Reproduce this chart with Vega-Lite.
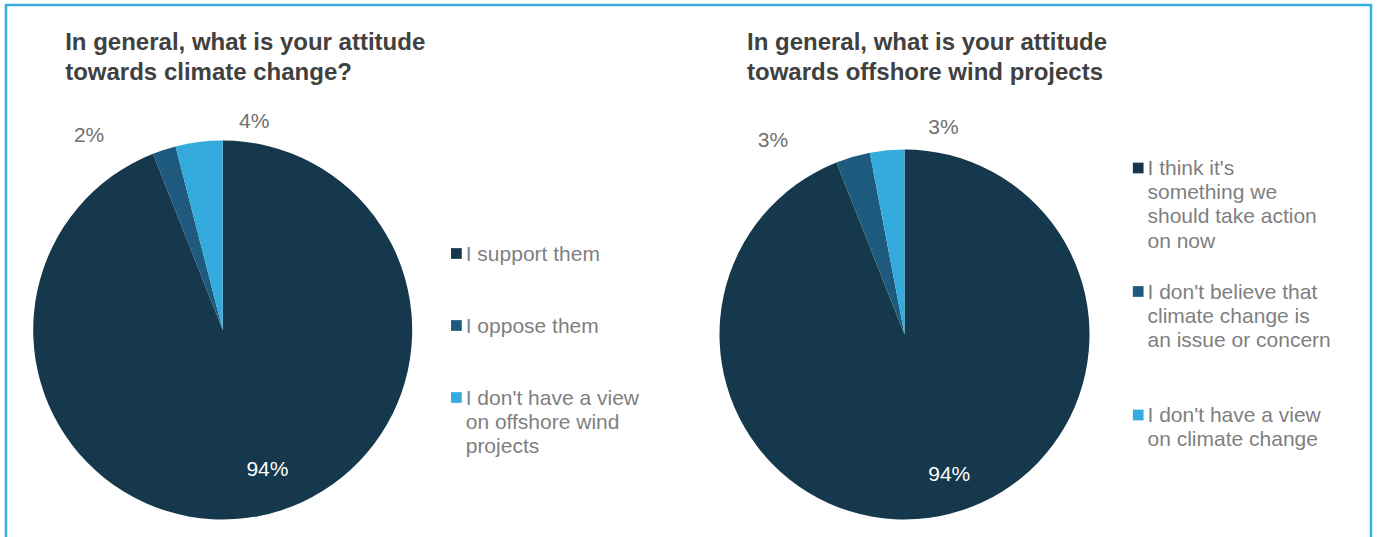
{
  "$schema": "https://vega.github.io/schema/vega-lite/v6.json",
  "width": 1365,
  "height": 540,
  "autosize": {"type": "none"},
  "padding": {"left": 6, "top": 5, "right": 7, "bottom": -8},
  "background": "white",
  "config": {
    "view": {"stroke": "#3aaee0", "strokeWidth": 2.5},
    "font": "Liberation Sans"
  },
  "datasets": {
    "pie": [
      {"q": "A", "ord": 1, "cat": "I support them", "value": 0.94},
      {"q": "A", "ord": 2, "cat": "I oppose them", "value": 0.02},
      {"q": "A", "ord": 3, "cat": "I don't have a view\non offshore wind\nprojects", "value": 0.04},
      {"q": "B", "ord": 1, "cat": "I think it's\nsomething we\nshould take action\non now", "value": 0.94},
      {"q": "B", "ord": 2, "cat": "I don't believe that\nclimate change is\nan issue or concern", "value": 0.03},
      {"q": "B", "ord": 3, "cat": "I don't have a view\non climate change", "value": 0.03}
    ],
    "titles": [
      {"q": "A", "title": "In general, what is your attitude\ntowards climate change?"},
      {"q": "B", "title": "In general, what is your attitude\ntowards offshore wind projects"}
    ]
  },
  "layer": [
    {
      "data": {"name": "pie"},
      "transform": [{"filter": "datum.q === 'A'"}],
      "mark": {"type": "arc", "outerRadius": 189.5},
      "encoding": {
        "x": {"field": "q", "type": "nominal", "scale": {"type": "point", "domain": ["A", "B"], "range": [216.7, 898.5], "padding": 0}, "axis": null},
        "y": {"field": "q", "type": "nominal", "scale": {"type": "point", "domain": ["A", "B"], "range": [325, 329.5], "padding": 0}, "axis": null},
        "theta": {"field": "value", "type": "quantitative", "stack": true},
        "order": {"field": "ord", "type": "quantitative"},
        "color": {"field": "ord", "type": "nominal", "scale": {"domain": [1, 2, 3], "range": ["#16384d", "#1d5a7e", "#35abdd"]}, "legend": null}
      }
    },
    {
      "data": {"name": "pie"},
      "transform": [{"filter": "datum.q === 'B'"}],
      "mark": {"type": "arc", "outerRadius": 185},
      "encoding": {
        "x": {"field": "q", "type": "nominal", "scale": {"type": "point", "domain": ["A", "B"], "range": [216.7, 898.5], "padding": 0}, "axis": null},
        "y": {"field": "q", "type": "nominal", "scale": {"type": "point", "domain": ["A", "B"], "range": [325, 329.5], "padding": 0}, "axis": null},
        "theta": {"field": "value", "type": "quantitative", "stack": true},
        "order": {"field": "ord", "type": "quantitative"},
        "color": {"field": "ord", "type": "nominal", "scale": {"domain": [1, 2, 3], "range": ["#16384d", "#1d5a7e", "#35abdd"]}, "legend": null}
      }
    },
    {
      "data": {"name": "pie"},
      "transform": [{"filter": "datum.q === 'A'"}],
      "mark": {
        "type": "text", "fontSize": 21, "align": "center", "baseline": "middle",
        "radius": {"expr": "datum.ord === 1 ? 148 : 235"},
        "dx": {"expr": "datum.ord === 1 ? 17 : datum.ord === 2 ? -61 : 61"},
        "dy": {"expr": "datum.ord === 1 ? -5 : datum.ord === 2 ? 29 : 25"}
      },
      "encoding": {
        "x": {"field": "q", "type": "nominal", "scale": {"type": "point", "domain": ["A", "B"], "range": [216.7, 898.5], "padding": 0}, "axis": null},
        "y": {"field": "q", "type": "nominal", "scale": {"type": "point", "domain": ["A", "B"], "range": [325, 329.5], "padding": 0}, "axis": null},
        "theta": {"field": "value", "type": "quantitative", "stack": true},
        "order": {"field": "ord", "type": "quantitative"},
        "detail": {"field": "ord", "type": "nominal"},
        "text": {"field": "value", "type": "quantitative", "format": ".0%"},
        "color": {"condition": {"test": "datum.ord === 1", "value": "#ffffff"}, "value": "#707070"}
      }
    },
    {
      "data": {"name": "pie"},
      "transform": [{"filter": "datum.q === 'B'"}],
      "mark": {
        "type": "text", "fontSize": 21, "align": "center", "baseline": "middle",
        "radius": {"expr": "datum.ord === 1 ? 148 : 235"},
        "dx": {"expr": "datum.ord === 1 ? 17 : datum.ord === 2 ? -66 : 61"},
        "dy": {"expr": "datum.ord === 1 ? -5 : datum.ord === 2 ? 32 : 27"}
      },
      "encoding": {
        "x": {"field": "q", "type": "nominal", "scale": {"type": "point", "domain": ["A", "B"], "range": [216.7, 898.5], "padding": 0}, "axis": null},
        "y": {"field": "q", "type": "nominal", "scale": {"type": "point", "domain": ["A", "B"], "range": [325, 329.5], "padding": 0}, "axis": null},
        "theta": {"field": "value", "type": "quantitative", "stack": true},
        "order": {"field": "ord", "type": "quantitative"},
        "detail": {"field": "ord", "type": "nominal"},
        "text": {"field": "value", "type": "quantitative", "format": ".0%"},
        "color": {"condition": {"test": "datum.ord === 1", "value": "#ffffff"}, "value": "#707070"}
      }
    },
    {
      "data": {"name": "titles"},
      "mark": {"type": "text", "align": "left", "baseline": "alphabetic", "fontSize": 24, "fontWeight": "bold", "color": "#404040", "lineBreak": "\n", "lineHeight": 30, "dx": -157.5, "y": 45},
      "encoding": {
        "x": {"field": "q", "type": "nominal", "scale": {"type": "point", "domain": ["A", "B"], "range": [216.7, 898.5], "padding": 0}, "axis": null},
        "text": {"field": "title", "type": "nominal"}
      }
    },
    {
      "data": {"name": "pie"},
      "transform": [{"filter": "datum.q === 'A'"}],
      "encoding": {
        "x": {"field": "q", "type": "nominal", "scale": {"type": "point", "domain": ["A", "B"], "range": [216.7, 898.5], "padding": 0}, "axis": null},
        "y": {"field": "ord", "type": "ordinal", "scale": {"type": "point", "domain": [1, 2, 3], "range": [248.5, 392.5], "padding": 0}, "axis": null}
      },
      "layer": [
        {
          "mark": {"type": "square", "size": 115, "opacity": 1, "xOffset": 233.7},
          "encoding": {"color": {"field": "ord", "type": "nominal", "scale": {"domain": [1, 2, 3], "range": ["#16384d", "#1d5a7e", "#35abdd"]}, "legend": null}}
        },
        {
          "mark": {"type": "text", "align": "left", "baseline": "alphabetic", "dx": 243, "dy": 7, "fontSize": 21, "lineBreak": "\n", "lineHeight": 24.2, "color": "#7f7f7f"},
          "encoding": {"text": {"field": "cat", "type": "nominal"}}
        }
      ]
    },
    {
      "data": {"name": "pie"},
      "transform": [{"filter": "datum.q === 'B'"}],
      "encoding": {
        "x": {"field": "q", "type": "nominal", "scale": {"type": "point", "domain": ["A", "B"], "range": [216.7, 898.5], "padding": 0}, "axis": null},
        "y": {"field": "ord", "type": "ordinal", "scale": {"type": "point", "domain": [1, 2, 3], "range": [163, 410], "padding": 0}, "axis": null}
      },
      "layer": [
        {
          "mark": {"type": "square", "size": 115, "opacity": 1, "xOffset": 233.7},
          "encoding": {"color": {"field": "ord", "type": "nominal", "scale": {"domain": [1, 2, 3], "range": ["#16384d", "#1d5a7e", "#35abdd"]}, "legend": null}}
        },
        {
          "mark": {"type": "text", "align": "left", "baseline": "alphabetic", "dx": 243, "dy": 7, "fontSize": 21, "lineBreak": "\n", "lineHeight": 24.2, "color": "#7f7f7f"},
          "encoding": {"text": {"field": "cat", "type": "nominal"}}
        }
      ]
    }
  ],
  "resolve": {"scale": {"y": "independent"}}
}
